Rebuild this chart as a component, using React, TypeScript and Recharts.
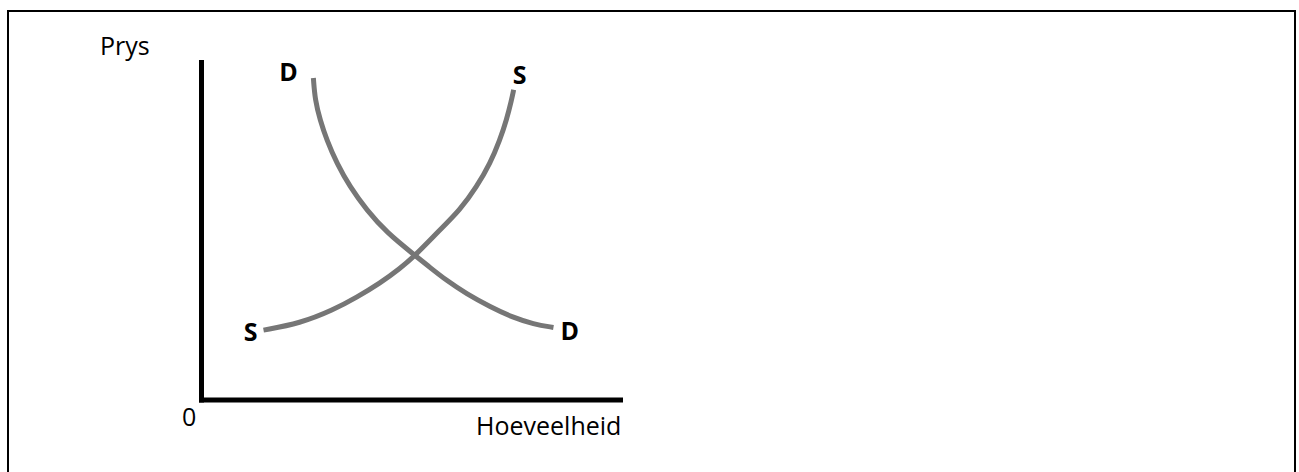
import { ComposedChart, Line, ReferenceDot, XAxis, YAxis } from 'recharts'

// quantity / price pairs (0-100 on both axes)
const demandQty = [26.7, 27.1, 28.3, 29.9, 32.3, 35.4, 39.4, 44.2, 51.0, 54.5, 58.5, 63.3, 68.9, 74.4, 79.2, 84.0]
const demandPrice = [95.4, 88.9, 83.0, 77.0, 70.1, 63.2, 56.3, 49.6, 42.8, 39.3, 35.4, 31.4, 27.6, 24.4, 22.5, 21.5]
const supplyQty = [14.8, 23.5, 31.5, 37.0, 42.6, 47.4, 51.0, 56.9, 61.7, 65.7, 68.9, 71.2, 72.8, 74.0, 74.5]
const supplyPrice = [20.7, 22.7, 26.7, 30.4, 34.6, 39.0, 42.8, 50.4, 56.3, 63.2, 70.1, 77.0, 83.0, 88.9, 91.9]

const demandLabel = 'D'
const supplyLabel = 'S'
const yTitle = 'Prys'
const xTitle = 'Hoeveelheid'
const originLabel = '0'

const demand = demandQty.map((q, i) => ({ q, p: demandPrice[i] }))
const supply = supplyQty.map((q, i) => ({ q, p: supplyPrice[i] }))

const FONT = '"Open Sans", sans-serif'
const CURVE = '#767676'

function tag(text: string, dx: number, dy: number) {
  return (props: any) => {
    const vb = props.viewBox || {}
    const cx = (vb.x ?? 0) + (vb.width ?? 0) / 2
    const cy = (vb.y ?? 0) + (vb.height ?? 0) / 2
    return (
      <text
        x={cx + dx}
        y={cy + dy + 9}
        textAnchor="middle"
        fontFamily={FONT}
        fontWeight={700}
        fontSize={25}
        fill="#000"
      >
        {text}
      </text>
    )
  }
}

const textStyle = {
  position: 'absolute' as const,
  fontFamily: FONT,
  fontSize: 25,
  lineHeight: '25px',
  color: '#000',
  whiteSpace: 'nowrap' as const,
}

const axisStyle = { stroke: '#000', strokeWidth: 5, strokeLinecap: 'square' as const }

export default function App() {
  const dFirst = demand[0]
  const dLast = demand[demand.length - 1]
  const sFirst = supply[0]
  const sLast = supply[supply.length - 1]

  return (
    <div
      style={{
        position: 'fixed',
        left: 0,
        top: 0,
        width: 1299,
        height: 472,
        overflow: 'hidden',
        background: '#fff',
      }}
    >
      <div
        style={{
          position: 'absolute',
          left: 7,
          top: 10,
          width: 1289,
          height: 470,
          boxSizing: 'border-box',
          border: '2px solid #000',
        }}
      />
      <div style={{ position: 'absolute', left: 0, top: 0 }}>
        <ComposedChart
          width={1299}
          height={472}
          margin={{ top: 62.5, right: 678.5, bottom: 42, left: 171.5 }}
        >
          <XAxis
            type="number"
            dataKey="q"
            domain={[0, 100]}
            height={30}
            tick={false}
            tickLine={false}
            axisLine={axisStyle}
          />
          <YAxis
            type="number"
            dataKey="p"
            domain={[0, 100]}
            width={30}
            tick={false}
            tickLine={false}
            axisLine={axisStyle}
          />
          <Line
            data={demand}
            dataKey="p"
            type="basis"
            stroke={CURVE}
            strokeWidth={5}
            dot={false}
            activeDot={false}
            isAnimationActive={false}
          />
          <Line
            data={supply}
            dataKey="p"
            type="basis"
            stroke={CURVE}
            strokeWidth={5}
            dot={false}
            activeDot={false}
            isAnimationActive={false}
          />
          <ReferenceDot x={dFirst.q} y={dFirst.p} r={0} fill="none" stroke="none" label={{ content: tag(demandLabel, -24.8, -6) }} />
          <ReferenceDot x={dLast.q} y={dLast.p} r={0} fill="none" stroke="none" label={{ content: tag(demandLabel, 16.2, 3.5) }} />
          <ReferenceDot x={sFirst.q} y={sFirst.p} r={0} fill="none" stroke="none" label={{ content: tag(supplyLabel, -12.8, 1.5) }} />
          <ReferenceDot x={sLast.q} y={sLast.p} r={0} fill="none" stroke="none" label={{ content: tag(supplyLabel, 6, -14.5) }} />
        </ComposedChart>
      </div>
      <div style={{ ...textStyle, left: 100, top: 33 }}>{yTitle}</div>
      <div style={{ ...textStyle, left: 182, top: 404 }}>{originLabel}</div>
      <div style={{ ...textStyle, left: 476, top: 413 }}>{xTitle}</div>
    </div>
  )
}
